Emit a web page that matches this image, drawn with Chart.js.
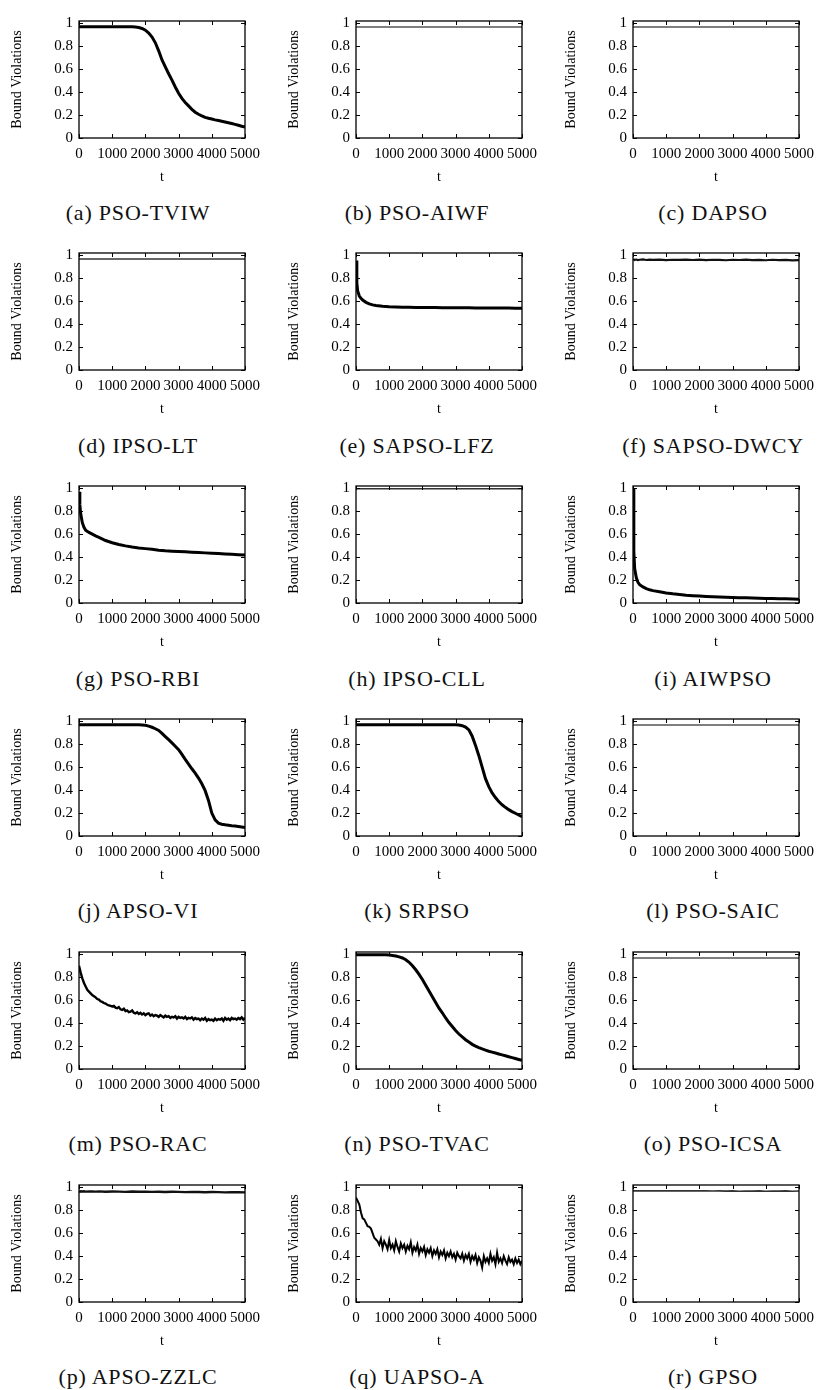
<!DOCTYPE html>
<html>
<head>
<meta charset="utf-8">
<script src="https://cdn.jsdelivr.net/npm/chart.js@4.4.1/dist/chart.umd.min.js"></script>
<style>
  html, body { margin: 0; padding: 0; background: #fff; overflow: hidden; }
  #page { position: relative; width: 821px; height: 1390px; }
  .panel { position: absolute; }
  .caption {
    position: absolute; width: 300px; text-align: center;
    font-family: "Liberation Serif", "Times New Roman", serif; font-size: 22px; letter-spacing: 0.8px;
    line-height: 26px; color: #111; white-space: nowrap;
  }
  .warm { position: absolute; left: -999px; top: 0; font-family: "Liberation Serif"; font-size: 15px; }
</style>
</head>
<body>
<div id="page"></div>
<span class="warm">0123456789 Bound Violations t</span>
<script>
// time steps (x values)
const tFlat = [0, 5000];
const tCoarse = [0, 25, 50, 100, 150, 200, 300, 400, 500, 600, 800, 1000, 1200, 1400, 1600, 1800,
  2000, 2200, 2400, 2600, 2800, 3000, 3200, 3400, 3600, 3800, 4000, 4200, 4400, 4600, 4800, 5000];
const tHundred = [0, 100, 200, 300, 400, 500, 600, 700, 800, 900, 1000, 1100, 1200, 1300, 1400, 1500, 1600, 1700, 1800, 1900,
  2000, 2100, 2200, 2300, 2400, 2500, 2600, 2700, 2800, 2900, 3000, 3100, 3200, 3300, 3400, 3500, 3600, 3700, 3800, 3900,
  4000, 4100, 4200, 4300, 4400, 4500, 4600, 4700, 4800, 4900, 5000];
const tFine = [0, 50, 100, 150, 200, 250, 300, 350, 400, 450, 500, 550, 600, 650, 700, 750, 800, 850, 900, 950,
  1000, 1050, 1100, 1150, 1200, 1250, 1300, 1350, 1400, 1450, 1500, 1550, 1600, 1650, 1700, 1750, 1800, 1850, 1900, 1950,
  2000, 2050, 2100, 2150, 2200, 2250, 2300, 2350, 2400, 2450, 2500, 2550, 2600, 2650, 2700, 2750, 2800, 2850, 2900, 2950,
  3000, 3050, 3100, 3150, 3200, 3250, 3300, 3350, 3400, 3450, 3500, 3550, 3600, 3650, 3700, 3750, 3800, 3850, 3900, 3950,
  4000, 4050, 4100, 4150, 4200, 4250, 4300, 4350, 4400, 4450, 4500, 4550, 4600, 4650, 4700, 4750, 4800, 4850, 4900, 4950, 5000];

const yTicks = [0, 0.2, 0.4, 0.6, 0.8, 1];
const xTicks = [0, 1000, 2000, 3000, 4000, 5000];

// bound violations per algorithm
const psoTviw = [0.97, 0.97, 0.97, 0.97, 0.97, 0.97, 0.97, 0.97, 0.97, 0.97, 0.97, 0.97, 0.97, 0.97, 0.97, 0.97,
  0.969, 0.967, 0.963, 0.955, 0.94, 0.915, 0.88, 0.83, 0.76, 0.68, 0.62, 0.56, 0.505, 0.445,
  0.39, 0.345, 0.31, 0.28, 0.25, 0.225, 0.207, 0.193, 0.18, 0.172, 0.165, 0.158, 0.152, 0.146, 0.14,
  0.133, 0.126, 0.119, 0.111, 0.103, 0.095];
const psoAiwf = [0.968, 0.968];
const dapso = [0.968, 0.968];
const ipsoLt = [0.968, 0.968];
const sapsoLfz = [0.955, 0.76, 0.69, 0.645, 0.625, 0.61, 0.59, 0.577, 0.568, 0.562, 0.555, 0.551, 0.549, 0.547, 0.546, 0.545,
  0.545, 0.544, 0.544, 0.543, 0.543, 0.542, 0.542, 0.542, 0.541, 0.541, 0.541, 0.54, 0.54, 0.54, 0.539, 0.539];
const sapsoDwcy = [0.965, 0.962, 0.96, 0.963, 0.958, 0.961, 0.964, 0.959, 0.962, 0.96, 0.963, 0.958, 0.961, 0.96, 0.963, 0.959,
  0.962, 0.958, 0.961, 0.96, 0.957, 0.961, 0.959, 0.962, 0.958, 0.96, 0.957, 0.961, 0.958, 0.96, 0.956, 0.958];
const psoRbi = [0.97, 0.86, 0.78, 0.7, 0.66, 0.635, 0.615, 0.6, 0.585, 0.572, 0.545, 0.525, 0.51, 0.498, 0.488, 0.48,
  0.474, 0.468, 0.46, 0.455, 0.452, 0.45, 0.446, 0.443, 0.44, 0.437, 0.434, 0.431, 0.428, 0.425, 0.421, 0.418];
const ipsoCll = [0.995, 0.995];
const aiwpso = [1.0, 0.45, 0.3, 0.22, 0.18, 0.16, 0.14, 0.125, 0.115, 0.108, 0.098, 0.088, 0.08, 0.074, 0.068, 0.064,
  0.06, 0.057, 0.054, 0.052, 0.05, 0.048, 0.046, 0.045, 0.043, 0.042, 0.04, 0.039, 0.038, 0.036, 0.035, 0.033];
const apsoVi = [0.97, 0.97, 0.97, 0.97, 0.97, 0.97, 0.97, 0.97, 0.97, 0.97, 0.97, 0.97, 0.97, 0.97, 0.97, 0.97,
  0.97, 0.97, 0.969, 0.968, 0.965, 0.958, 0.948, 0.935, 0.92, 0.895, 0.867, 0.84, 0.812, 0.783,
  0.752, 0.712, 0.668, 0.627, 0.586, 0.548, 0.505, 0.455, 0.395, 0.31, 0.2, 0.14, 0.112, 0.103, 0.098,
  0.094, 0.09, 0.087, 0.083, 0.079, 0.075];
const srpso = [0.97, 0.97, 0.97, 0.97, 0.97, 0.97, 0.97, 0.97, 0.97, 0.97, 0.97, 0.97, 0.97, 0.97, 0.97, 0.97,
  0.97, 0.97, 0.97, 0.97, 0.97, 0.97, 0.97, 0.97, 0.97, 0.97, 0.97, 0.97, 0.97, 0.97,
  0.969, 0.967, 0.962, 0.95, 0.925, 0.87, 0.79, 0.7, 0.6, 0.5, 0.43, 0.375, 0.335, 0.3, 0.272,
  0.25, 0.23, 0.213, 0.198, 0.183, 0.168];
const psoSaic = [0.968, 0.968];
const psoRac = [0.9, 0.84, 0.79, 0.75, 0.72, 0.69, 0.675, 0.66, 0.645, 0.635,
  0.625, 0.61, 0.605, 0.59, 0.585, 0.575, 0.57, 0.56, 0.555, 0.55,
  0.545, 0.55, 0.535, 0.53, 0.54, 0.52, 0.515, 0.525, 0.505, 0.51,
  0.495, 0.5, 0.51, 0.49, 0.485, 0.495, 0.48, 0.49, 0.475, 0.485,
  0.47, 0.48, 0.485, 0.465, 0.475, 0.46, 0.47, 0.465, 0.455, 0.47,
  0.46, 0.45, 0.465, 0.455, 0.46, 0.445, 0.455, 0.45, 0.46, 0.44,
  0.455, 0.445, 0.45, 0.44, 0.455, 0.435, 0.445, 0.44, 0.45, 0.43,
  0.445, 0.435, 0.44, 0.425, 0.44, 0.43, 0.445, 0.42, 0.435, 0.425,
  0.43, 0.42, 0.44, 0.425, 0.435, 0.43, 0.44, 0.42, 0.445, 0.43,
  0.44, 0.425, 0.445, 0.435, 0.44, 0.43, 0.445, 0.435, 0.45, 0.43, 0.445];
const psoTvac = [0.995, 0.995, 0.995, 0.995, 0.995, 0.995, 0.995, 0.995, 0.995, 0.995,
  0.993, 0.99, 0.985, 0.978, 0.968, 0.952, 0.93, 0.9, 0.865, 0.825,
  0.78, 0.73, 0.68, 0.63, 0.58, 0.53, 0.49, 0.445, 0.405, 0.37,
  0.335, 0.305, 0.28, 0.255, 0.235, 0.215, 0.2, 0.187, 0.175, 0.165,
  0.155, 0.147, 0.139, 0.131, 0.123, 0.115, 0.107, 0.099, 0.091, 0.083, 0.075];
const psoIcsa = [0.968, 0.968];
const apsoZzlc = [0.966, 0.964, 0.965, 0.963, 0.965, 0.962, 0.964, 0.963, 0.962, 0.964, 0.961, 0.963, 0.962, 0.96, 0.963, 0.961,
  0.962, 0.96, 0.961, 0.959, 0.961, 0.96, 0.958, 0.96, 0.959, 0.957, 0.959, 0.958, 0.956, 0.958, 0.957, 0.956];
const uapsoA = [0.91, 0.88, 0.85, 0.78, 0.73, 0.72, 0.69, 0.66, 0.655, 0.64,
  0.6, 0.56, 0.545, 0.53, 0.5, 0.55, 0.47, 0.53, 0.5, 0.46,
  0.54, 0.47, 0.5, 0.45, 0.53, 0.48, 0.44, 0.51, 0.47, 0.5,
  0.44, 0.49, 0.46, 0.52, 0.43, 0.48, 0.45, 0.5, 0.42, 0.47,
  0.44, 0.48, 0.41, 0.46, 0.43, 0.47, 0.4, 0.45, 0.42, 0.46,
  0.39, 0.44, 0.41, 0.45, 0.38, 0.43, 0.4, 0.44, 0.39, 0.42,
  0.37, 0.43, 0.4, 0.38, 0.42, 0.36, 0.41, 0.38, 0.42, 0.35,
  0.4, 0.37, 0.41, 0.34, 0.39, 0.36, 0.3, 0.4, 0.35, 0.38,
  0.34, 0.42, 0.36, 0.39, 0.33, 0.43, 0.35, 0.38, 0.34, 0.4,
  0.36, 0.33, 0.39, 0.35, 0.37, 0.33, 0.38, 0.34, 0.37, 0.33, 0.36];
const gpso = [0.969, 0.969, 0.969, 0.969, 0.969, 0.969, 0.969, 0.969, 0.969, 0.969, 0.969, 0.969, 0.969, 0.969, 0.969, 0.969,
  0.969, 0.969, 0.968, 0.969, 0.967, 0.969, 0.966, 0.968, 0.967, 0.969, 0.966, 0.968, 0.967, 0.969, 0.966, 0.968];

const panels = [
  ['(a) PSO-TVIW', tHundred, psoTviw, 3, '#000'],
  ['(b) PSO-AIWF', tFlat, psoAiwf, 1.5, '#555'],
  ['(c) DAPSO', tFlat, dapso, 1.5, '#555'],
  ['(d) IPSO-LT', tFlat, ipsoLt, 1.5, '#333'],
  ['(e) SAPSO-LFZ', tCoarse, sapsoLfz, 3, '#000'],
  ['(f) SAPSO-DWCY', tCoarse, sapsoDwcy, 2.2, '#111'],
  ['(g) PSO-RBI', tCoarse, psoRbi, 3, '#000'],
  ['(h) IPSO-CLL', tFlat, ipsoCll, 1.5, '#333'],
  ['(i) AIWPSO', tCoarse, aiwpso, 3, '#000'],
  ['(j) APSO-VI', tHundred, apsoVi, 3, '#000'],
  ['(k) SRPSO', tHundred, srpso, 3, '#000'],
  ['(l) PSO-SAIC', tFlat, psoSaic, 1.5, '#555'],
  ['(m) PSO-RAC', tFine, psoRac, 2.4, '#000'],
  ['(n) PSO-TVAC', tHundred, psoTvac, 3, '#000'],
  ['(o) PSO-ICSA', tFlat, psoIcsa, 1.5, '#555'],
  ['(p) APSO-ZZLC', tCoarse, apsoZzlc, 2.4, '#111'],
  ['(q) UAPSO-A', tFine, uapsoA, 2, '#000'],
  ['(r) GPSO', tCoarse, gpso, 1.6, '#333']
];

const plotLeft = [79, 356, 633];
const captionX = [138, 417, 713];
const serif = 'Liberation Serif';

// box around the plot with small inward ticks like gnuplot
const frame = {
  id: 'frame',
  afterDraw(chart) {
    const { ctx, chartArea: a, scales: { x, y } } = chart;
    ctx.save();
    ctx.strokeStyle = '#000';
    ctx.lineWidth = 1.3;
    ctx.strokeRect(a.left, a.top, a.right - a.left, a.bottom - a.top);
    ctx.lineWidth = 1;
    ctx.beginPath();
    x.ticks.forEach(t => {
      const px = Math.round(x.getPixelForValue(t.value)) + 0.5;
      ctx.moveTo(px, a.bottom); ctx.lineTo(px, a.bottom - 4);
      ctx.moveTo(px, a.top); ctx.lineTo(px, a.top + 4);
    });
    y.ticks.forEach(t => {
      const py = Math.round(y.getPixelForValue(t.value)) + 0.5;
      ctx.moveTo(a.left, py); ctx.lineTo(a.left + 4, py);
      ctx.moveTo(a.right, py); ctx.lineTo(a.right - 4, py);
    });
    ctx.stroke();
    ctx.restore();
  }
};

function main() {
  Chart.defaults.font.family = serif;
  const page = document.getElementById('page');

  panels.forEach((p, i) => {
    const [caption, ts, vals, width, color] = p;
    const col = i % 3, row = Math.floor(i / 3);
    const top = 15.5 + 232.8 * row;

    const box = document.createElement('div');
    box.className = 'panel';
    box.style.left = (plotLeft[col] - 79) + 'px';
    box.style.top = Math.round(top - 10) + 'px';
    const canvas = document.createElement('canvas');
    canvas.width = 267;
    canvas.height = 182;
    canvas.style.width = '267px';
    canvas.style.height = '182px';
    box.appendChild(canvas);
    page.appendChild(box);

    const cap = document.createElement('div');
    cap.className = 'caption';
    cap.textContent = caption;
    cap.style.left = (captionX[col] - 150) + 'px';
    cap.style.top = Math.round(213 + 232.8 * row - 13) + 'px';
    page.appendChild(cap);

    new Chart(canvas.getContext('2d'), {
      type: 'line',
      data: {
        datasets: [{
          data: ts.map((t, k) => ({ x: t, y: vals[k] })),
          borderColor: color,
          borderWidth: width,
          pointRadius: 0,
          tension: 0,
          fill: false
        }]
      },
      options: {
        responsive: false,
        animation: false,
        events: [],
        layout: { padding: { top: 10, right: 18, left: 0, bottom: 0 } },
        plugins: { legend: { display: false }, tooltip: { enabled: false } },
        scales: {
          x: {
            type: 'linear', min: 0, max: 5000,
            afterBuildTicks: s => { s.ticks = xTicks.map(v => ({ value: v })); },
            afterFit: s => { s.height = 50; },
            grid: { display: false, drawTicks: false },
            border: { display: false },
            ticks: { color: '#000', padding: 7, maxRotation: 0, autoSkip: false,
              font: { family: serif, size: 15 }, callback: v => String(v) },
            title: { display: true, text: 't', color: '#000', padding: { top: 0, bottom: 2 },
              font: { family: serif, size: 14 } }
          },
          y: {
            type: 'linear', min: 0, max: 1.02,
            afterBuildTicks: s => { s.ticks = yTicks.map(v => ({ value: v })); },
            afterFit: s => { s.width = 79; },
            grid: { display: false, drawTicks: false },
            border: { display: false },
            ticks: { color: '#000', padding: 6, font: { family: serif, size: 15 },
              callback: v => String(+v.toFixed(1)) },
            title: { display: true, text: 'Bound Violations', color: '#000', padding: { top: 9, bottom: 0 },
              font: { family: serif, size: 14 } }
          }
        }
      },
      plugins: [frame]
    });
  });
}

document.fonts.load('15px "Liberation Serif"').then(main, main);
</script>
</body>
</html>
